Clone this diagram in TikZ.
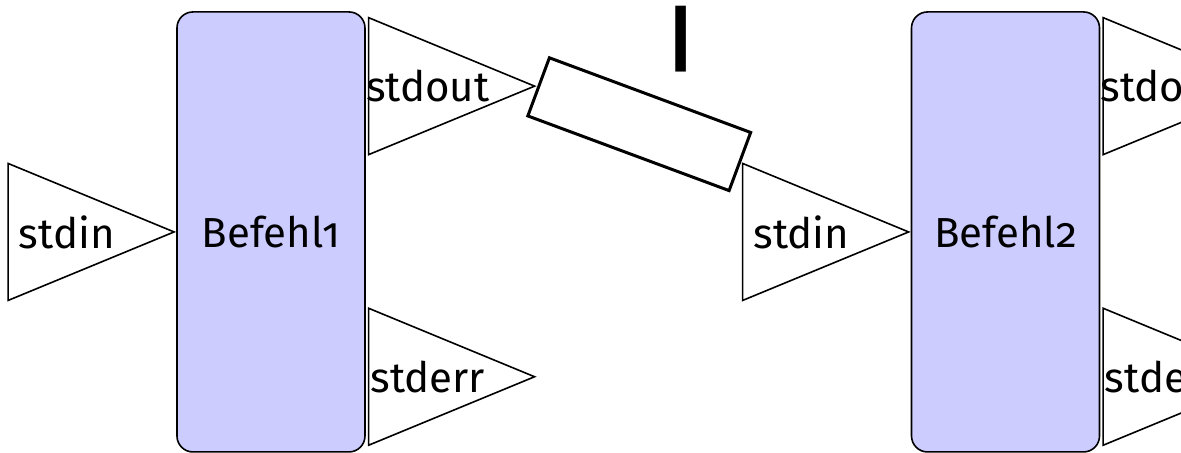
\documentclass[tikz,border=0pt]{standalone}
\usepackage{fontspec}
\setmainfont{Fira Sans}[Numbers=OldStyle]
\usetikzlibrary{calc,shapes.geometric}

\newcommand{\porttext}[1]{\makebox[0pt]{\hspace{12pt}#1}}
\tikzset{
	befehl/.style={draw,rounded corners=4pt,fill=blue!20,minimum width=47pt,minimum height=110pt,inner sep=0pt},
	port/.style={draw,isosceles triangle,isosceles triangle stretches,minimum width=34.25pt,minimum height=41.5pt,inner sep=0pt,fill=white},
	pipe/.style={draw,line width=0.75pt,minimum height=15.5pt,inner sep=0pt,fill=white}
}

\begin{document}
\begin{tikzpicture}[line width=0.4pt,font=\fontsize{10.5}{12}\selectfont]
	\useasboundingbox (0,0) rectangle (10.377,3.980);
	\node[befehl] (b1) at (2.381,1.942) {Befehl1};
	\node[befehl] (b2) at (8.835,1.942) {Befehl2};
	% ports
	\node[port,anchor=apex]       (in1)  at (b1.west) {\porttext{stdin}};
	\node[port,anchor=lower side] (out1) at ([xshift=0.5pt,yshift=-18.75pt]b1.north east) {\porttext{stdout}};
	\node[port,anchor=lower side] (err1) at ([xshift=0.5pt,yshift=19pt]b1.south east) {\porttext{stderr}};
	\node[port,anchor=apex]       (in2)  at (b2.west) {\porttext{stdin}};
	\node[port,anchor=lower side] (out2) at ([xshift=0.5pt,yshift=-18.75pt]b2.north east) {\porttext{stdout}};
	\node[port,anchor=lower side] (err2) at ([xshift=0.5pt,yshift=19pt]b2.south east) {\porttext{stderr}};
	% the pipe
	\path let \p1=($(in2.left corner)-(out1.apex)$) in
		node[pipe,rotate={atan2(\y1,\x1)},minimum width={veclen(\x1,\y1)-1pt}] (pipe)
		at ($(out1.apex)!.5!(in2.left corner)$) {};
	\node[font=\fontsize{18}{20}\selectfont\bfseries] (bar) at (5.984,3.638) {|};
\end{tikzpicture}
\end{document}
